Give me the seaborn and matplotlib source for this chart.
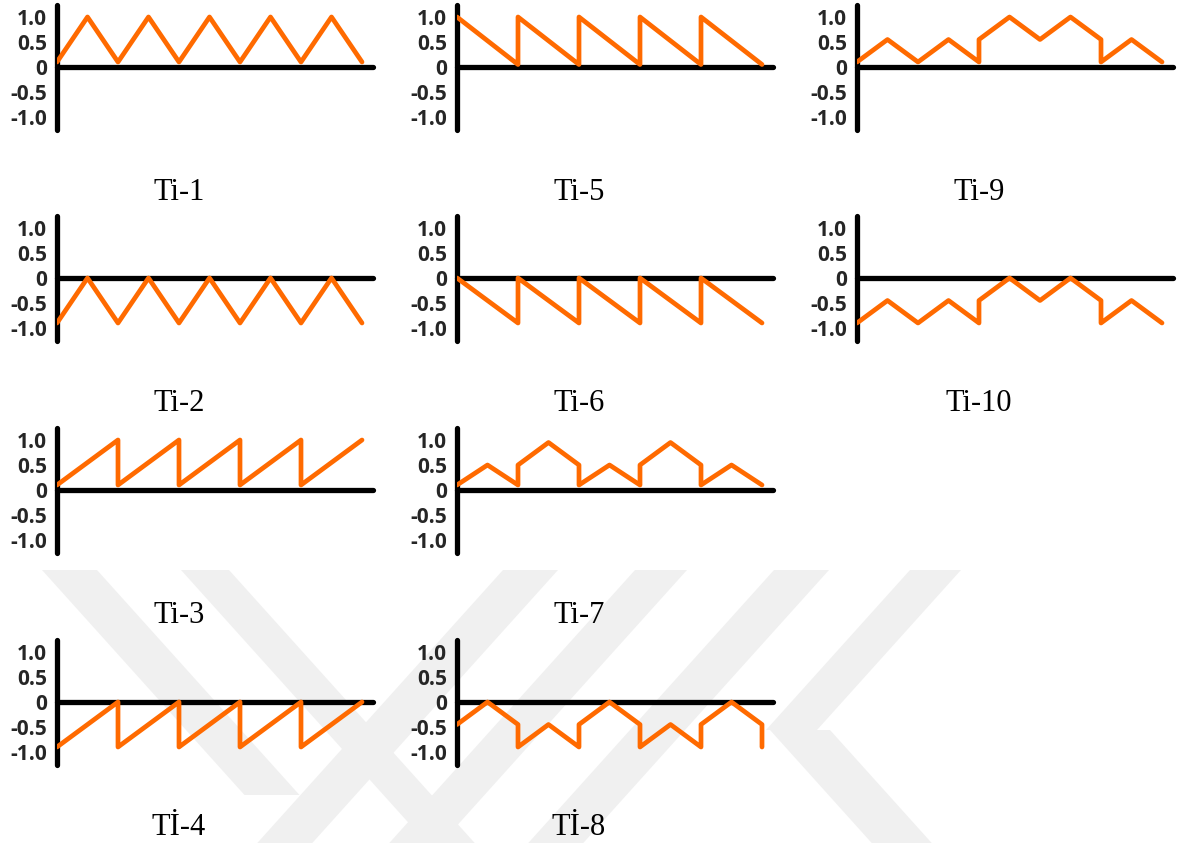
import matplotlib
matplotlib.use("Agg")
import matplotlib.pyplot as plt
from matplotlib.patches import Polygon
import seaborn as sns

sns.set_style("white")
plt.rcParams['font.family'] = ['Open Sans', 'DejaVu Sans']

# waveform data (x in half-periods, y amplitude)
ti1_x = [0, 1, 2, 3, 4, 5, 6, 7, 8, 9, 10]
ti1_y = [0.1, 1.0, 0.1, 1.0, 0.1, 1.0, 0.1, 1.0, 0.1, 1.0, 0.1]

ti2_x = [0, 1, 2, 3, 4, 5, 6, 7, 8, 9, 10]
ti2_y = [-0.9, 0, -0.9, 0, -0.9, 0, -0.9, 0, -0.9, 0, -0.9]

ti3_x = [0, 2, 2, 4, 4, 6, 6, 8, 8, 10]
ti3_y = [0.1, 1.0, 0.1, 1.0, 0.1, 1.0, 0.1, 1.0, 0.1, 1.0]

ti4_x = [0, 2, 2, 4, 4, 6, 6, 8, 8, 10]
ti4_y = [-0.9, 0, -0.9, 0, -0.9, 0, -0.9, 0, -0.9, 0]

ti5_x = [0, 2, 2, 4, 4, 6, 6, 8, 8, 10]
ti5_y = [1.0, 0.05, 1.0, 0.05, 1.0, 0.05, 1.0, 0.05, 1.0, 0.05]

ti6_x = [0, 2, 2, 4, 4, 6, 6, 8, 8, 10]
ti6_y = [0, -0.9, 0, -0.9, 0, -0.9, 0, -0.9, 0, -0.9]

ti7_x = [0, 1, 2, 2, 3, 4, 4, 5, 6, 6, 7, 8, 8, 9, 10]
ti7_y = [0.1, 0.5, 0.1, 0.5, 0.95, 0.5, 0.1, 0.5, 0.1, 0.5, 0.95, 0.5, 0.1, 0.5, 0.1]

ti8_x = [0, 1, 2, 2, 3, 4, 4, 5, 6, 6, 7, 8, 8, 9, 10, 10]
ti8_y = [-0.45, 0, -0.45, -0.9, -0.45, -0.9, -0.45, 0, -0.45, -0.9, -0.45, -0.9, -0.45, 0, -0.45, -0.9]

ti9_x = [0, 1, 2, 3, 4, 4, 5, 6, 7, 8, 8, 9, 10]
ti9_y = [0.1, 0.55, 0.1, 0.55, 0.1, 0.55, 1.0, 0.55, 1.0, 0.55, 0.1, 0.55, 0.1]

ti10_x = [0, 1, 2, 3, 4, 4, 5, 6, 7, 8, 8, 9, 10]
ti10_y = [-0.9, -0.45, -0.9, -0.45, -0.9, -0.45, 0, -0.45, 0, -0.45, -0.9, -0.45, -0.9]

labels = ["Ti-1", "Ti-2", "Ti-3", "Tİ-4", "Ti-5", "Ti-6", "Ti-7", "Tİ-8", "Ti-9", "Ti-10"]
series = [(ti1_x, ti1_y), (ti2_x, ti2_y), (ti3_x, ti3_y), (ti4_x, ti4_y),
          (ti5_x, ti5_y), (ti6_x, ti6_y), (ti7_x, ti7_y), (ti8_x, ti8_y),
          (ti9_x, ti9_y), (ti10_x, ti10_y)]
yticks = [1.0, 0.5, 0, -0.5, -1.0]
ytick_labels = ["1.0", "0.5", "0", "-0.5", "-1.0"]

W, H = 1179, 843
fig = plt.figure(figsize=(W / 100, H / 100), dpi=100)
fig.patch.set_facecolor("white")

# faint watermark in the lower half, kept behind the panels
wm = "#f0f0f0"
def band(x0, x1, y0, y1, k):
    d = k * (y1 - y0)
    pts = [(x0, y0), (x1, y0), (x1 + d, y1), (x0 + d, y1)]
    pts = [(x / W, 1 - y / H) for x, y in pts]
    fig.patches.append(Polygon(pts, closed=True, transform=fig.transFigure,
                               facecolor=wm, edgecolor="none", zorder=-10))

band(42, 97, 570, 795, 0.9)
band(503, 558, 570, 843, -0.9)
band(181, 229, 570, 843, 0.9)
band(635, 687, 570, 843, -0.9)
band(774, 829, 570, 843, -0.9)
band(910, 961, 570, 730, -0.9)
band(770, 830, 730, 843, 0.9)

spine_x = [57, 457, 857]
zero_y = [67, 278, 490, 702]
unit_w = 30.5
unit_h = 50.0
xmax = 10.4
ymax = 1.25

orange = "#ff6a00"
for i, (lab, (xs, ys)) in enumerate(zip(labels, series)):
    col = i // 4
    row = i % 4
    left = spine_x[col]
    top = zero_y[row] - ymax * unit_h
    w = xmax * unit_w
    h = 2 * ymax * unit_h
    ax = fig.add_axes([left / W, 1 - (top + h) / H, w / W, h / H])
    ax.set_zorder(1)
    ax.patch.set_alpha(0)
    sns.lineplot(x=xs, y=ys, ax=ax, sort=False, estimator=None, color=orange,
                 linewidth=3.4, zorder=3)
    for ln in ax.lines:
        ln.set_solid_joinstyle("round")
        ln.set_solid_capstyle("round")
    ax.plot([0, xmax - 0.05], [0, 0], color="black", linewidth=3.8,
            solid_capstyle="round", zorder=2, clip_on=False)
    ax.plot([0, 0], [-ymax, ymax], color="black", linewidth=3.8,
            solid_capstyle="round", zorder=2, clip_on=False)
    ax.set_xlim(0, xmax)
    ax.set_ylim(-ymax, ymax)
    sns.despine(ax=ax, left=True, bottom=True)
    ax.set_xticks([])
    ax.set_yticks(yticks)
    ax.set_yticklabels(ytick_labels, fontsize=15, fontweight="bold")
    ax.tick_params(axis="y", length=0, pad=7)
    ax.grid(False)
    fig.text((left + 122) / W, 1 - (zero_y[row] + 133) / H, lab,
             ha="center", va="baseline", fontsize=22, color="black",
             family=["Liberation Serif", "DejaVu Serif"])

fig.savefig("out.png", dpi=100)
